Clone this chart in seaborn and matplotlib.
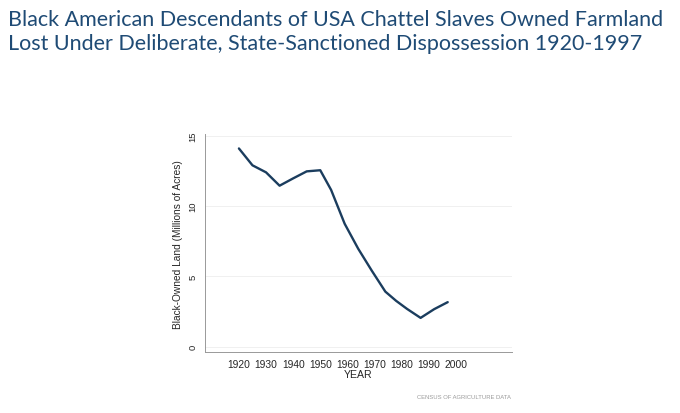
import numpy as np
import pandas as pd
import matplotlib
matplotlib.use("Agg")
import matplotlib.pyplot as plt
import seaborn as sns

# Census of Agriculture years and Black-owned land (millions of acres)
years = [1920, 1925, 1930, 1935, 1940, 1945, 1950, 1954, 1959, 1964,
         1969, 1974, 1978, 1982, 1987, 1992, 1997]
acres = [14.1, 12.9, 12.4, 11.45, 11.97, 12.47, 12.55, 11.15, 8.74, 6.96,
         5.4, 3.91, 3.25, 2.68, 2.04, 2.66, 3.16]
x_ticks = [1920, 1930, 1940, 1950, 1960, 1970, 1980, 1990, 2000]
y_ticks = [0, 5, 10, 15]

title = ("Black American Descendants of USA Chattel Slaves Owned Farmland\n"
         "Lost Under Deliberate, State-Sanctioned Dispossession 1920-1997")

df = pd.DataFrame({"YEAR": years, "acres": acres})

sns.set_theme(style="white")
plt.rcParams['font.family'] = ['Liberation Sans', 'DejaVu Sans']

fig = plt.figure(figsize=(6.8, 4.14), dpi=100)
ax = fig.add_axes([0.3015, 0.1466, 0.451, 0.527])

sns.lineplot(data=df, x="YEAR", y="acres", color="#1b3d5e", linewidth=1.7, ax=ax)

ax.set_xlim(1907.5, 2020.6)
ax.set_ylim(-0.41, 15.12)
ax.set_xticks(x_ticks)
ax.set_yticks(y_ticks)
ax.tick_params(axis="x", labelsize=7.4, length=2.5, width=0.6, color="#888888", pad=2.5)
ax.tick_params(axis="y", labelsize=6.8, length=3.5, width=0.6, color="#888888", pad=2)
for lab in ax.get_yticklabels():
    lab.set_rotation(90)
    lab.set_va("center")
ax.grid(axis="y", color="#eeeeee", linewidth=0.6)
ax.set_axisbelow(True)

for side in ["top", "right"]:
    ax.spines[side].set_visible(False)
for side in ["left", "bottom"]:
    ax.spines[side].set_color("#999999")
    ax.spines[side].set_linewidth(0.7)

ax.set_xlabel("YEAR", fontsize=7.6, labelpad=0)
ax.set_ylabel("Black-Owned Land (Millions of Acres)", fontsize=7.3, labelpad=4)

fig.text(0.012, 0.975, title, ha="left", va="top", fontsize=15.5,
         color="#1f4b75", family=["Lato", "DejaVu Sans"], linespacing=1.2)

fig.text(0.752, 0.04, "CENSUS OF AGRICULTURE DATA", ha="right", va="center",
         fontsize=4.2, color="#9a9a9a")

fig.savefig("out.png", dpi=100)
